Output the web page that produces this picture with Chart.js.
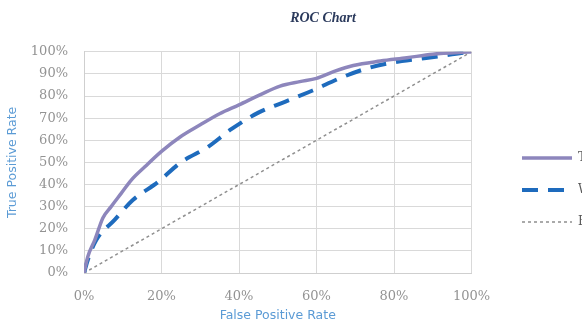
<!DOCTYPE html>
<html>
<head>
<meta charset="utf-8">
<script src="https://cdn.jsdelivr.net/npm/chart.js@4/dist/chart.umd.min.js"></script>
<style>
  html, body { margin: 0; padding: 0; background: #fff; overflow: hidden; width: 582px; height: 324px; }
  #wrap { position: relative; width: 646px; height: 324px; }
</style>
</head>
<body>
<div id="wrap"><canvas id="roc" width="646" height="324"></canvas></div>
<script>
// ROC curves: false positive rate (%) vs true positive rate (%)
const seriesNames = ['Trained model', 'Weighted model', 'Baseline (random)'];

const trainFpr = [0, 1, 2.8, 4.9, 7, 9.6, 12.2, 15.7, 20, 24.8, 30, 35, 40, 45.4, 50.6, 55.7, 60, 64.4, 69.5, 76.5, 83.3, 90, 100];
const trainTpr = [0, 7.5, 15, 25, 30, 36, 42, 48, 55, 61.5, 67, 72, 76, 80.5, 84.5, 86.5, 88, 91, 93.8, 95.8, 97.3, 98.9, 100];

const weightedFpr = [0, 1, 3.2, 7.9, 12.6, 19, 25, 32, 38, 45, 52, 59, 66.5, 73.8, 82, 89.3, 97.8, 100];
const weightedTpr = [0, 6, 15, 24, 33, 41, 50, 57, 65, 72.5, 77.5, 82.5, 88.4, 92.9, 95.8, 97.4, 99.6, 100];

const baselineFpr = [0, 100];
const baselineTpr = [0, 100];

const xTickStep = 20;   // 0%, 20%, ... 100%
const yTickStep = 10;   // 0%, 10%, ... 100%

const toPoints = (xs, ys) => xs.map((x, i) => ({ x: x, y: ys[i] }));

const tickFont = { family: 'DejaVu Serif', size: 13 };
const axisTitleFont = { family: 'DejaVu Sans', size: 12.5 };
const gridColor = '#d9d9d9';

new Chart(document.getElementById('roc'), {
  type: 'line',
  data: {
    datasets: [
      {
        label: seriesNames[0],
        data: toPoints(trainFpr, trainTpr),
        borderColor: '#8d86bc',
        backgroundColor: '#8d86bc',
        borderWidth: 3.5,
        pointRadius: 0,
        cubicInterpolationMode: 'monotone',
        fill: false
      },
      {
        label: seriesNames[1],
        data: toPoints(weightedFpr, weightedTpr),
        borderColor: '#1e6bbd',
        backgroundColor: '#1e6bbd',
        borderWidth: 4,
        borderDash: [16, 10],
        borderCapStyle: 'butt',
        pointRadius: 0,
        cubicInterpolationMode: 'monotone',
        fill: false
      },
      {
        label: seriesNames[2],
        data: toPoints(baselineFpr, baselineTpr),
        borderColor: '#8f8f8f',
        backgroundColor: '#8f8f8f',
        borderWidth: 1.5,
        borderDash: [3, 3],
        pointRadius: 0,
        fill: false
      }
    ]
  },
  options: {
    responsive: false,
    animation: false,
    devicePixelRatio: 1,
    layout: { padding: 0 },
    plugins: {
      title: {
        display: true,
        text: 'ROC Chart',
        color: '#2b3a5c',
        font: { family: 'Liberation Serif', size: 14, weight: 'bold', style: 'italic' },
        padding: { top: 10, bottom: 25 }
      },
      legend: {
        display: true,
        position: 'right',
        maxWidth: 144,
        title: { display: true, text: ' ', font: { size: 10 }, padding: { top: 22, bottom: 22 } },
        labels: {
          usePointStyle: true,
          pointStyle: 'line',
          pointStyleWidth: 50,
          padding: 20,
          color: '#595959',
          font: { family: 'DejaVu Serif', size: 12 },
          // keep each series' line width and dash pattern in its legend sample
          generateLabels: chart => {
            const items = Chart.defaults.plugins.legend.labels.generateLabels(chart);
            items.forEach(item => {
              const ds = chart.data.datasets[item.datasetIndex];
              item.lineDash = ds.borderDash || [];
              item.lineWidth = ds.borderWidth;
              item.strokeStyle = ds.borderColor;
              item.lineCap = 'butt';
            });
            return items;
          }
        }
      },
      tooltip: { enabled: false }
    },
    scales: {
      x: {
        type: 'linear',
        min: 0,
        max: 100,
        ticks: {
          stepSize: xTickStep,
          padding: 16,
          color: '#939393',
          font: tickFont,
          callback: v => v + '%'
        },
        grid: { color: gridColor, drawTicks: false },
        border: { color: '#cfcfcf' },
        title: {
          display: true,
          text: 'False Positive Rate',
          color: '#5b9bd5',
          font: axisTitleFont,
          padding: { top: 2, bottom: 1 }
        },
        afterFit: s => { s.height = 51; }
      },
      y: {
        type: 'linear',
        min: 0,
        max: 100,
        ticks: {
          stepSize: yTickStep,
          padding: 16,
          color: '#939393',
          font: tickFont,
          callback: v => v + '%'
        },
        grid: { color: gridColor, drawTicks: false },
        border: { color: '#cfcfcf' },
        title: {
          display: true,
          text: 'True Positive Rate',
          color: '#5b9bd5',
          font: axisTitleFont,
          padding: { top: 5.5, bottom: 2 }
        },
        afterFit: s => { s.width = 84; }
      },
      gap: {
        type: 'linear',
        position: 'right',
        display: true,
        grid: { display: false, drawTicks: false },
        border: { display: false },
        ticks: { display: false },
        afterFit: s => { s.width = 30.5; }
      }
    }
  }
});
</script>
</body>
</html>
